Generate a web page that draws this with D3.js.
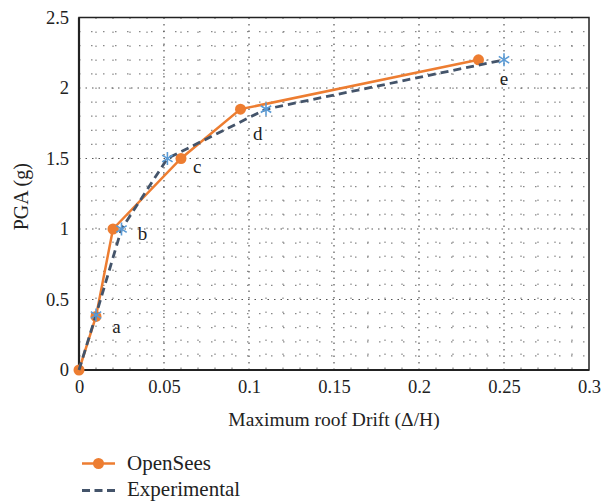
<!DOCTYPE html>
<html><head><meta charset="utf-8">
<script src="https://cdn.jsdelivr.net/npm/d3@7"></script>
<style>body{margin:0;background:#fff}svg{display:block}text{font-family:"Liberation Serif","DejaVu Serif",serif;fill:#222}</style>
</head><body><svg id="c" width="601" height="502"></svg>
<script>
const openSeesX = [0, 0.01, 0.02, 0.06, 0.095, 0.235];
const openSeesY = [0, 0.38, 1.0, 1.5, 1.85, 2.2];
const expX = [0, 0.01, 0.025, 0.052, 0.11, 0.25];
const expY = [0, 0.39, 1.0, 1.5, 1.85, 2.2];
const pointLabels = ["a","b","c","d","e"];
const labelX = [0.0195, 0.0345, 0.067, 0.1024, 0.2475];
const labelY = [0.26, 0.92, 1.40, 1.63, 2.02];
const xTicks = [0, 0.05, 0.1, 0.15, 0.2, 0.25, 0.3];
const yTicks = [0, 0.5, 1, 1.5, 2, 2.5];
const seriesNames = ["OpenSees", "Experimental"];

const svg = d3.select("#c");
const L=79, R=589, T=17.5, B=370;
const x = d3.scaleLinear().domain([0,0.3]).range([L,R]);
const y = d3.scaleLinear().domain([0,2.5]).range([B,T]);

const g = svg.append("g");
const xMinor = d3.range(1,30).map(i=>i*0.01).filter(v=>Math.abs(v*20-Math.round(v*20))>1e-6);
const yMinor = d3.range(1,25).map(i=>i*0.1).filter(v=>Math.abs(v*2-Math.round(v*2))>1e-6);
g.selectAll(".xm").data(xMinor).join("line").attr("x1",d=>x(d)).attr("x2",d=>x(d)).attr("y1",T).attr("y2",B)
 .attr("stroke","#888").attr("stroke-width",1.2).attr("stroke-dasharray","1.5,12.5");
g.selectAll(".ym").data(yMinor).join("line").attr("y1",d=>y(d)).attr("y2",d=>y(d)).attr("x1",L).attr("x2",R)
 .attr("stroke","#888").attr("stroke-width",1.2).attr("stroke-dasharray","1.5,10.5");
g.selectAll(".xM").data(xTicks.slice(1,-1)).join("line").attr("x1",d=>x(d)).attr("x2",d=>x(d)).attr("y1",T).attr("y2",B)
 .attr("stroke","#555").attr("stroke-width",1.2).attr("stroke-dasharray","1.5,5");
g.selectAll(".yM").data(yTicks.slice(1,-1)).join("line").attr("y1",d=>y(d)).attr("y2",d=>y(d)).attr("x1",L).attr("x2",R)
 .attr("stroke","#555").attr("stroke-width",1.2).attr("stroke-dasharray","1.5,5");

svg.append("rect").attr("x",L).attr("y",T).attr("width",R-L).attr("height",B-T)
 .attr("fill","none").attr("stroke","#222").attr("stroke-width",1.5);
svg.append("line").attr("x1",L).attr("x2",L).attr("y1",T).attr("y2",B).attr("stroke","#222").attr("stroke-width",2.2);
svg.append("line").attr("x1",L).attr("x2",R).attr("y1",B).attr("y2",B).attr("stroke","#222").attr("stroke-width",2.2);

const xAxis = svg.append("g").attr("transform",`translate(0,${B})`)
 .call(d3.axisBottom(x).tickValues(xTicks).tickSize(0).tickPadding(10).tickFormat(d=>String(+d.toFixed(2))));
const yAxis = svg.append("g").attr("transform",`translate(${L},0)`)
 .call(d3.axisLeft(y).tickValues(yTicks).tickSize(0).tickPadding(10).tickFormat(d=>String(d)));
[xAxis,yAxis].forEach(a=>{a.attr("font-family",null);a.select(".domain").remove();a.selectAll("text").style("font-size","18.5px").style("font-family","'Liberation Serif', serif").style("fill","#222");});

svg.append("text").attr("x",334).attr("y",426).attr("text-anchor","middle").style("font-size","19.5px").text("Maximum roof Drift (Δ/H)");
svg.append("text").attr("transform",`translate(28,${(T+B)/2+3}) rotate(-90)`).attr("text-anchor","middle").style("font-size","20px").text("PGA (g)");

const orange="#ED7D31", dark="#44546A", star="#5B9BD5";
const line = d3.line().x(d=>x(d[0])).y(d=>y(d[1]));
const os = openSeesX.map((v,i)=>[v,openSeesY[i]]);
const ex = expX.map((v,i)=>[v,expY[i]]);
svg.append("path").datum(os).attr("d",line).attr("fill","none").attr("stroke",orange).attr("stroke-width",2.5);
svg.selectAll(".osc").data(os).join("circle").attr("cx",d=>x(d[0])).attr("cy",d=>y(d[1])).attr("r",5.5).attr("fill",orange);
svg.append("path").datum(ex).attr("d",line).attr("fill","none").attr("stroke",dark).attr("stroke-width",2.8).attr("stroke-dasharray","8,5");
function drawStar(sel,cx,cy,s){
  const b=s*0.8;
  sel.append("line").attr("x1",cx).attr("x2",cx).attr("y1",cy-s).attr("y2",cy+s);
  sel.append("line").attr("x1",cx-b).attr("x2",cx+b).attr("y1",cy-b*0.65).attr("y2",cy+b*0.65);
  sel.append("line").attr("x1",cx-b).attr("x2",cx+b).attr("y1",cy+b*0.65).attr("y2",cy-b*0.65);
}
const sg = svg.append("g").attr("stroke",star).attr("stroke-width",1.6);
ex.slice(1).forEach(d=>drawStar(sg,x(d[0]),y(d[1]),6.5));

svg.selectAll(".pl").data(pointLabels).join("text").attr("x",(d,i)=>x(labelX[i])).attr("y",(d,i)=>y(labelY[i]))
 .style("font-size","19px").text(d=>d);

svg.append("line").attr("x1",82).attr("x2",115).attr("y1",463.5).attr("y2",463.5).attr("stroke",orange).attr("stroke-width",2.5);
svg.append("circle").attr("cx",98.5).attr("cy",463.5).attr("r",5.5).attr("fill",orange);
svg.append("line").attr("x1",82).attr("x2",115).attr("y1",490.5).attr("y2",490.5).attr("stroke",dark).attr("stroke-width",2.8).attr("stroke-dasharray","8,4.5");
svg.append("text").attr("x",127).attr("y",470).style("font-size","21px").text(seriesNames[0]);
svg.append("text").attr("x",127).attr("y",496).style("font-size","21px").text(seriesNames[1]);
</script></body></html>
